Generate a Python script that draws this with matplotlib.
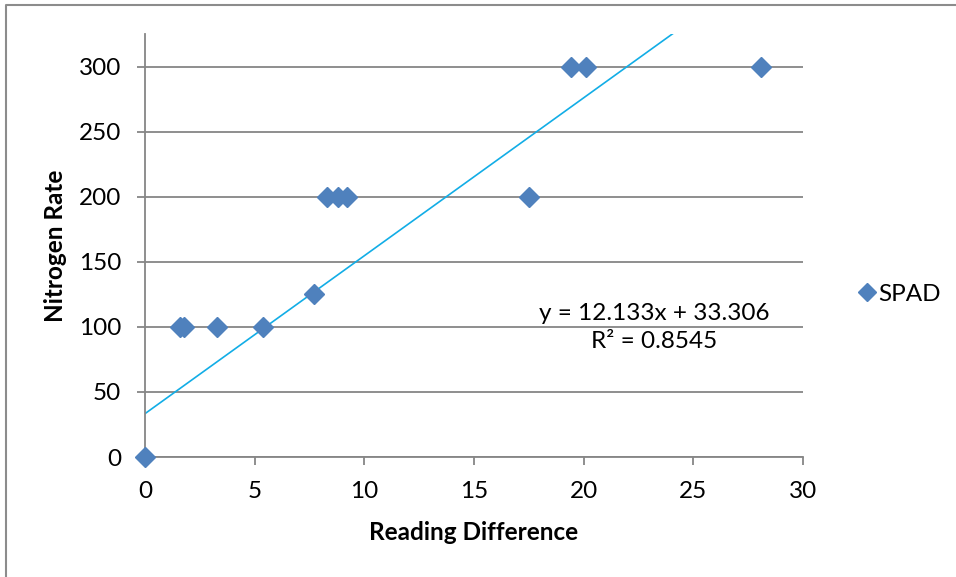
import numpy as np
import matplotlib
matplotlib.use("Agg")
from matplotlib import pyplot as plt
from matplotlib.lines import Line2D

# readings
reading_diff = [0, 1.6, 1.8, 3.3, 5.4, 7.7, 8.3, 8.8, 9.2, 17.5, 19.4, 20.1, 28.1]
nitrogen_rate = [0, 100, 100, 100, 100, 125, 200, 200, 200, 200, 300, 300, 300]
slope = 12.133
intercept = 33.306
r_squared = 0.8545
x_ticks = [0, 5, 10, 15, 20, 25, 30]
y_ticks = [0, 50, 100, 150, 200, 250, 300]

plt.rcParams['font.family'] = ['Lato', 'DejaVu Sans']
grey = "#868686"
fs = 17.5

fig = plt.figure(figsize=(9.56, 5.77), dpi=100)
ax = fig.add_axes([145 / 956, 1 - 457 / 577, 658 / 956, 423 / 577])

ax.set_xlim(0, 30)
ax.set_ylim(0, 325)
ax.set_xticks(x_ticks)
ax.set_yticks(y_ticks)
ax.grid(axis="y", color=grey, linewidth=1.3)
ax.set_axisbelow(True)
for s in ["top", "right"]:
    ax.spines[s].set_visible(False)
for s in ["left", "bottom"]:
    ax.spines[s].set_color(grey)
    ax.spines[s].set_linewidth(1.3)
ax.tick_params(axis="both", colors=grey, width=1.3, length=6,
               labelcolor="black", labelsize=fs)
ax.tick_params(axis="x", pad=11)
ax.tick_params(axis="y", pad=11)

# trendline
tx = np.array([0, 30])
ax.plot(tx, slope * tx + intercept, color="#12ADE6", linewidth=1.2, zorder=2)

ax.plot(reading_diff, nitrogen_rate, linestyle="none", marker="D",
        markersize=9.7, color="#4F81BD", label="SPAD", clip_on=False, zorder=3)

ax.text(0.7736, 0.340, "y = 12.133x + 33.306", transform=ax.transAxes,
        ha="center", va="center", fontsize=fs)
ax.text(0.7736, 0.272, "R² = %.4f" % r_squared, transform=ax.transAxes,
        ha="center", va="center", fontsize=fs)

ax.set_xlabel("Reading Difference", fontsize=fs, fontweight="bold", labelpad=14)
ax.set_ylabel("Nitrogen Rate", fontsize=fs, fontweight="bold", labelpad=9)

ax.legend(loc="center left", bbox_to_anchor=(1.064, 0.385), frameon=False,
          fontsize=fs, handlelength=1.0, handletextpad=-0.05, borderaxespad=0,
          markerscale=0.9)

# chart area border
fig.add_artist(Line2D([6 / 956, 6 / 956, 1], [0, 1 - 5 / 577, 1 - 5 / 577],
                      transform=fig.transFigure, color="#8c8c8c", linewidth=1.5))

fig.savefig("out.png", dpi=100)
